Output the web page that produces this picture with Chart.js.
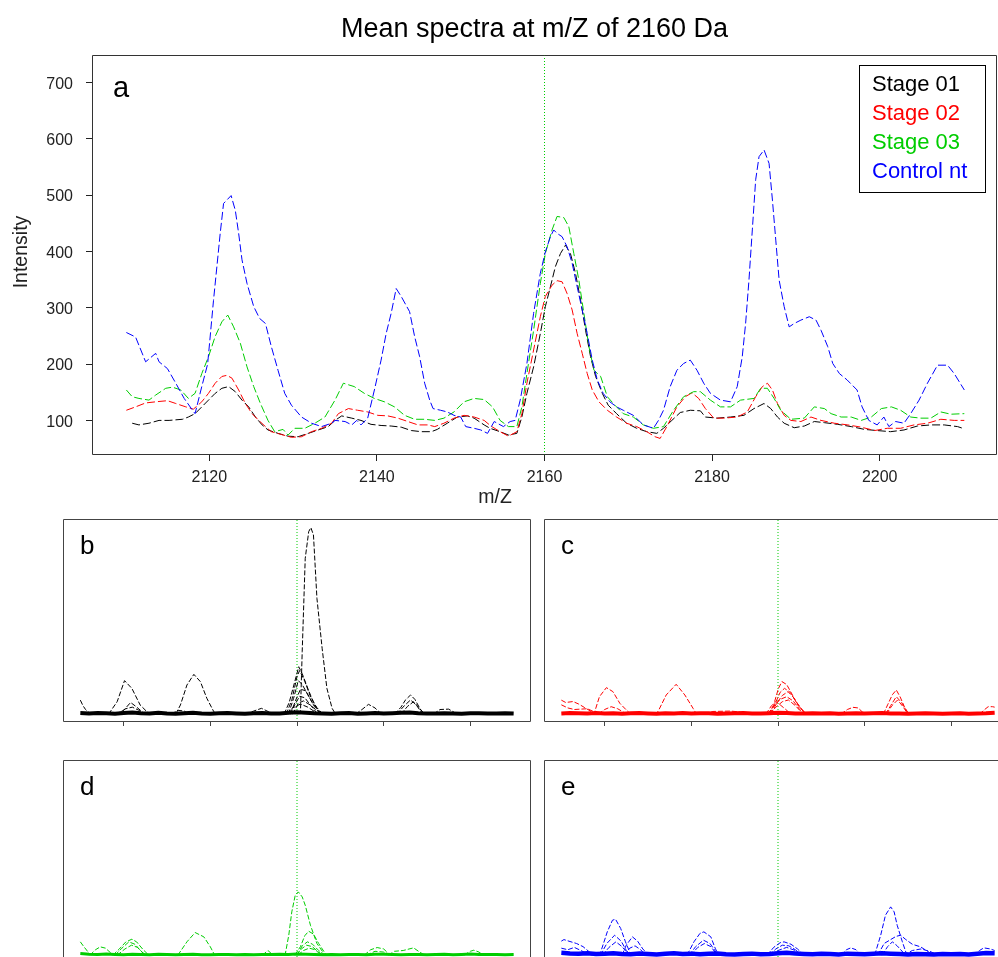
<!DOCTYPE html>
<html>
<head>
<meta charset="utf-8">
<title>Mean spectra at m/Z of 2160 Da</title>
<script src="https://cdn.jsdelivr.net/npm/chart.js@4.4.1/dist/chart.umd.min.js"></script>
<style>
  html, body { margin: 0; padding: 0; background: #ffffff; overflow: hidden; }
  #page { position: relative; width: 998px; height: 957px; overflow: hidden; background: #ffffff; }
  canvas { position: absolute; }
</style>
</head>
<body>
<div id="page">
  <canvas id="panelA" width="998" height="510" style="left:0px;top:0px"></canvas>
  <canvas id="panelB" width="488" height="232" style="left:53px;top:509px"></canvas>
  <canvas id="panelC" width="488" height="232" style="left:534px;top:509px"></canvas>
  <canvas id="panelD" width="488" height="232" style="left:53px;top:750px"></canvas>
  <canvas id="panelE" width="488" height="232" style="left:534px;top:750px"></canvas>
</div>
<script>
// ---------------------------------------------------------------
// Mean spectra, [m/Z, intensity]
// ---------------------------------------------------------------
const stage01 = [
  [2110.8,95],[2111.6,92],[2112.8,95],[2114,100],[2115.2,100],[2116.8,102],[2117.5,106],[2118.3,112],
  [2119.1,124],[2119.9,136],[2120.7,148],[2121.5,157],[2122.3,160],[2123.1,151],[2123.9,136],[2124.7,124],
  [2125.5,106],[2126.3,92],[2127,83],[2128.2,77],[2129.4,72],[2130.6,71],[2131.8,77],[2133,83],
  [2134.2,89],[2135,100],[2135.8,108],[2137,104],[2138.1,100],[2139.3,93],[2140.5,91],[2141.7,90],
  [2142.9,88],[2144.1,82],[2145.3,80],[2146.5,80],[2147.2,84],[2148.4,95],[2149.6,106],[2150.8,108],
  [2151.6,104],[2152.8,92],[2153.5,86],[2154.7,80],[2155.7,74],[2156.7,77],[2157.3,106],[2157.9,148],
  [2158.7,195],[2159.5,254],[2160.1,302],[2160.7,337],[2161.3,373],[2161.9,396],[2162.5,411],[2163.1,396],
  [2163.7,361],[2164.3,314],[2164.9,260],[2165.5,213],[2166.1,178],[2166.9,148],[2167.6,127],[2168.6,112],
  [2169.8,95],[2171,86],[2172.2,80],[2173.4,77],[2174.2,86],[2175.2,100],[2176.2,114],[2177.4,118],
  [2178.6,117],[2179.2,106],[2180.6,104],[2182.2,106],[2183.8,109],[2185,121],[2186.2,130],[2187,121],
  [2187.8,106],[2188.6,95],[2189.8,87],[2191,90],[2192.2,98],[2193.4,96],[2195,93],[2196.6,89],
  [2198.2,84],[2199.7,82],[2201.3,80],[2202.9,83],[2204.5,90],[2206.1,92],[2207.7,92],[2209.3,89],[2210.1,85]
];
const stage02 = [
  [2110.1,118],[2111.2,124],[2112.4,131],[2113.6,133],[2115,135],[2116,130],[2117.2,124],[2118.1,120],
  [2119.1,133],[2119.9,148],[2120.7,166],[2121.5,178],[2122.1,180],[2122.7,175],[2123.5,154],[2124.3,130],
  [2125.1,112],[2125.9,100],[2126.7,89],[2127.4,80],[2128.6,75],[2129.8,70],[2131,71],[2132.2,80],
  [2133.4,86],[2134.6,95],[2135.4,112],[2136.6,121],[2137.7,118],[2138.9,115],[2140.1,109],[2141.3,108],
  [2142.5,104],[2143.7,98],[2144.9,92],[2146.1,92],[2146.9,89],[2148,95],[2149.2,104],[2150.4,109],
  [2151.6,106],[2152.8,100],[2153.6,90],[2154.7,80],[2155.7,72],[2156.7,80],[2157.3,112],[2157.9,166],
  [2158.7,225],[2159.5,284],[2160.1,320],[2160.9,340],[2161.5,348],[2162.1,346],[2162.7,325],[2163.3,296],
  [2163.9,254],[2164.5,219],[2165.1,183],[2165.7,154],[2166.5,133],[2167.5,118],[2168.6,106],[2169.8,95],
  [2171,89],[2172.2,80],[2173.2,71],[2173.8,68],[2174.6,89],[2175.8,124],[2176.8,142],[2177.6,149],
  [2178.4,139],[2179.2,121],[2180.2,104],[2181.4,104],[2183,106],[2184.2,115],[2185.2,142],[2186,160],
  [2186.6,166],[2187.2,154],[2187.8,130],[2188.6,109],[2189.4,100],[2190.6,98],[2191.8,106],[2193,100],
  [2194.6,95],[2196.2,92],[2197.8,88],[2199.4,82],[2200.9,86],[2202.5,86],[2204.1,92],[2205.7,95],
  [2207.3,102],[2208.9,100],[2210.1,100]
];
const stage03 = [
  [2110.1,154],[2110.8,142],[2111.6,139],[2112.8,136],[2113.6,145],[2114.8,157],[2115.6,159],[2116.6,154],
  [2117.5,139],[2118.3,148],[2119.1,183],[2119.9,213],[2120.7,249],[2121.5,275],[2122.2,287],[2122.9,266],
  [2123.7,237],[2124.5,195],[2125.3,160],[2126.1,130],[2127,100],[2127.8,80],[2128.8,84],[2129.4,74],
  [2130.2,86],[2131.4,86],[2132.6,95],[2133.8,106],[2135,136],[2136,166],[2137.3,160],[2138.5,148],
  [2139.7,139],[2140.9,133],[2142.1,124],[2143.3,109],[2144.5,102],[2145.7,102],[2146.9,100],[2148,104],
  [2149.2,115],[2150.4,133],[2151.6,139],[2152.8,137],[2153.8,124],[2154.7,100],[2155.7,89],[2156.7,89],
  [2157.3,124],[2157.9,183],[2158.7,260],[2159.5,343],[2160.1,396],[2160.9,438],[2161.5,462],[2162.3,460],
  [2162.9,444],[2163.5,396],[2164.1,349],[2164.7,290],[2165.3,231],[2165.9,189],[2166.7,178],[2167.5,142],
  [2168.4,127],[2169.4,112],[2170.6,106],[2171.8,92],[2173,86],[2174.2,89],[2175.4,118],[2176.6,142],
  [2177.8,151],[2178.6,151],[2179.8,136],[2181,124],[2182.2,124],[2183.4,136],[2185,139],[2185.8,157],
  [2186.6,157],[2187.4,139],[2188.2,118],[2189.4,102],[2191,104],[2192.2,124],[2193.4,121],[2194.2,112],
  [2195.4,106],[2196.6,106],[2197.8,100],[2199,106],[2200.2,121],[2201.4,124],[2202.5,118],[2203.7,106],
  [2204.9,104],[2206.1,104],[2207.3,115],[2208.5,111],[2210.1,112]
];
const controlNt = [
  [2110.1,256],[2111.2,248],[2112.4,204],[2113.6,219],[2114,204],[2115,192],[2116,166],[2117,139],
  [2118,118],[2118.3,112],[2119.1,160],[2119.8,200],[2120.5,313],[2121.3,432],[2121.7,485],[2122.6,499],
  [2123.1,473],[2123.5,432],[2123.9,385],[2124.5,343],[2125.3,302],[2126,281],[2126.7,272],[2127.4,231],
  [2128.2,189],[2129,148],[2129.8,127],[2131,106],[2132.2,95],[2133.4,89],[2134.6,95],[2135,100],
  [2136.2,98],[2137,92],[2137.6,100],[2138.1,92],[2138.9,104],[2139.7,154],[2140.5,207],[2141.1,254],
  [2141.7,290],[2142.3,334],[2142.9,320],[2143.9,293],[2144.5,249],[2145.1,213],[2145.7,166],[2146.3,136],
  [2146.7,121],[2147.6,118],[2148.4,115],[2149.2,109],[2150,106],[2150.6,89],[2151.6,86],[2152.4,83],
  [2153.2,77],[2154,98],[2155.1,89],[2155.9,98],[2156.5,100],[2157.1,136],[2157.9,201],[2158.7,290],
  [2159.5,361],[2160.1,399],[2160.7,426],[2161.1,438],[2161.5,432],[2162.1,426],[2162.7,408],[2163.3,379],
  [2163.9,337],[2164.5,296],[2165.1,254],[2165.7,207],[2166.3,172],[2167,148],[2167.8,133],[2168.6,124],
  [2169.4,118],[2170.6,109],[2171.8,92],[2173,86],[2173.6,100],[2174.2,118],[2175,160],[2175.8,189],
  [2176.6,201],[2177.4,207],[2178.2,189],[2179,166],[2179.8,148],[2181,136],[2182.2,133],[2183,160],
  [2183.6,213],[2184,272],[2184.4,349],[2184.8,438],[2185.2,527],[2185.6,568],[2186.2,580],[2186.8,556],
  [2187.2,491],[2187.6,420],[2188,349],[2188.6,302],[2189.2,266],[2189.8,272],[2190.6,278],[2191.6,284],
  [2192.4,278],[2193,260],[2193.8,231],[2194.4,201],[2195.2,183],[2196.1,172],[2197.3,154],[2197.9,124],
  [2198.7,100],[2199.7,92],[2200.5,106],[2201.1,89],[2201.9,98],[2202.9,95],[2203.7,112],[2204.7,136],
  [2205.7,166],[2206.9,198],[2208.1,198],[2208.9,183],[2210.1,154]
];

const seriesNames  = ['Stage 01', 'Stage 02', 'Stage 03', 'Control nt'];
const seriesColors = ['#000000', '#FF0000', '#00CD00', '#0000FF'];
const xTicks = [2120, 2140, 2160, 2180, 2200];
const yTicks = [100, 200, 300, 400, 500, 600, 700];
const targetMz = 2160;

// ---------------------------------------------------------------
// Individual spectra per group: baseline band plus the peaks, [m/Z, intensity]
// ---------------------------------------------------------------
const mzGrid = [2110,2112,2114,2116,2118,2120,2122,2124,2126,2128,2130,2132,2134,2136,2138,2140,2142,2144,2146,2148,
  2150,2152,2154,2156,2158,2160,2162,2164,2166,2168,2170,2172,2174,2176,2178,2180,2182,2184,2186,2188,
  2190,2192,2194,2196,2198,2200,2202,2204,2206,2208,2210];

const baseStage01 = [14,9,16,11,7,15,21,12,8,17,10,6,13,19,9,7,12,16,10,5,11,15,8,10,17,24,20,12,9,6,11,14,7,10,15,9,12,17,21,11,8,10,13,9,6,11,12,8,10,13,9];
const baseStage02 = [10,16,12,8,14,9,13,7,11,15,10,6,12,9,14,8,11,13,7,10,12,15,9,8,13,18,14,10,8,11,9,12,7,10,13,8,11,14,10,9,7,10,12,8,6,9,11,7,10,12,18];
const baseStage03 = [22,12,8,14,10,6,11,9,7,12,8,5,9,11,7,6,10,8,6,9,7,10,8,12,9,14,11,8,6,9,7,10,8,6,11,13,9,7,10,8,6,9,11,7,10,14,9,8,10,7,9];
const baseControl = [30,22,18,24,14,20,26,16,12,22,15,10,18,24,14,20,12,18,22,13,10,16,20,12,15,26,30,22,16,12,18,14,10,20,16,12,18,24,20,14,10,16,12,8,14,12,16,10,18,28,26];

const peaksStage01 = [
  [[2110,180],[2110.6,110],[2111.2,60],[2112.4,0]],
  [[2116.5,0],[2118.5,160],[2120.2,430],[2121.9,330],[2123.8,118],[2125.4,30],[2126,0]],
  [[2118,0],[2120,50],[2121.6,150],[2122.8,100],[2124.5,20],[2125.5,0]],
  [[2118.5,0],[2120.5,70],[2122,90],[2123.5,50],[2125,0]],
  [[2131,0],[2132.5,50],[2134,40],[2135,0]],
  [[2132,0],[2133.1,118],[2134.6,374],[2136.2,510],[2137.7,417],[2139.2,203],[2140.8,32],[2141.5,0]],
  [[2148,0],[2150,40],[2151.8,75],[2153.5,30],[2155,0]],
  [[2157,0],[2158.2,150],[2159.5,420],[2160.4,608],[2161.2,520],[2162.5,330],[2163.8,150],[2165,40],[2166,0]],
  [[2157.5,0],[2158.8,180],[2160,480],[2160.6,560],[2161.8,420],[2163,240],[2164.5,90],[2166,0]],
  [[2158,0],[2159.2,200],[2160.3,430],[2161.2,380],[2162.5,250],[2164,100],[2165.5,0]],
  [[2158.5,0],[2159.7,180],[2160.8,320],[2162,300],[2163.5,150],[2165.2,30],[2166.5,0]],
  [[2158,0],[2159.5,120],[2160.6,230],[2161.8,210],[2163.2,110],[2164.8,0]],
  [[2159,0],[2160.3,140],[2161.5,170],[2163,120],[2164.5,50],[2166,0]],
  [[2157.5,0],[2159,80],[2160.8,130],[2162.5,90],[2165,0]],
  [[2160.2,0],[2160.8,32],[2161.2,800],[2161.9,1996],[2162.7,2338],[2163.2,2390],[2163.8,2295],[2164.6,1484],[2165.8,844],[2166.9,331],[2168.1,75],[2168.8,11],[2169.4,0]],
  [[2173.5,0],[2175,60],[2176.5,126],[2178,80],[2179.5,0]],
  [[2182.5,0],[2184,90],[2185,180],[2186.2,246],[2187.2,190],[2188.4,70],[2189.2,0]],
  [[2183,0],[2184.8,110],[2186.2,182],[2187.5,120],[2189,0]],
  [[2184,0],[2185.5,100],[2186.9,160],[2188.2,80],[2189.5,0]],
  [[2191.5,0],[2193,60],[2195,65],[2197,0]]
];
const peaksStage02 = [
  [[2110,180],[2111,150],[2112.7,162],[2114,130],[2115.4,84],[2117,30],[2118,0]],
  [[2110,120],[2111.5,80],[2113,60],[2116,70],[2118,20],[2119,0]],
  [[2117,0],[2117.7,32],[2118.8,225],[2120.4,340],[2121.9,289],[2123.5,139],[2125,54],[2126,0]],
  [[2118.5,0],[2120,60],[2121.5,96],[2123,70],[2124.5,20],[2125.5,0]],
  [[2131.5,0],[2132.3,32],[2134.2,246],[2136.5,383],[2138.5,246],[2140.4,75],[2141.2,0]],
  [[2143,0],[2145,35],[2149,40],[2151,30],[2152,0]],
  [[2157.8,0],[2159,120],[2160.1,330],[2160.9,417],[2162,380],[2163.2,260],[2164.5,120],[2166,30],[2167,0]],
  [[2158,0],[2159.3,130],[2160.5,280],[2161.5,331],[2162.8,280],[2164.2,160],[2165.8,40],[2167,0]],
  [[2158.3,0],[2159.8,150],[2161,240],[2162.3,289],[2163.5,220],[2165,90],[2166.5,0]],
  [[2157.5,0],[2159,100],[2160.5,190],[2162,224],[2163.5,170],[2165,60],[2166.3,0]],
  [[2158,0],[2159.5,90],[2161,160],[2162.4,182],[2164,110],[2165.5,20],[2166.2,0]],
  [[2157.2,0],[2158.5,110],[2159.5,160],[2160.5,120],[2161.8,60],[2163,0]],
  [[2174.5,0],[2176,60],[2177.3,88],[2178.5,80],[2180,0]],
  [[2184.3,0],[2185.3,120],[2186.4,250],[2187.3,310],[2188.2,220],[2189.2,90],[2190,20],[2190.6,0]],
  [[2184.8,0],[2186,110],[2187.3,224],[2188.5,150],[2189.8,30],[2190.5,0]],
  [[2185,0],[2186.3,110],[2187.6,182],[2188.8,100],[2190,0]],
  [[2206.5,0],[2207.7,60],[2208.5,96],[2209.5,96],[2210,90]]
];
const peaksStage03 = [
  [[2110,171],[2110.8,110],[2111.8,40],[2112.5,0]],
  [[2112.2,0],[2113.5,70],[2114.6,107],[2115.8,90],[2117,30],[2118,0]],
  [[2117.5,0],[2119,80],[2120.5,170],[2121.9,205],[2123,170],[2124.5,70],[2125.8,0]],
  [[2118,0],[2119.6,90],[2121.2,171],[2122.6,140],[2124,50],[2125.2,0]],
  [[2118.5,0],[2120.3,80],[2121.8,128],[2123.2,100],[2124.6,20],[2125.5,0]],
  [[2132.5,0],[2134.6,171],[2136.5,290],[2138.5,235],[2140,107],[2141,0]],
  [[2152,0],[2153.3,60],[2154.5,0]],
  [[2157,0],[2157.3,15],[2158.1,256],[2158.8,555],[2159.6,769],[2160.3,811],[2161.2,747],[2161.9,640],[2163.1,384],[2164.6,149],[2166.2,21],[2166.8,0]],
  [[2159.5,0],[2160.8,110],[2161.8,250],[2162.7,307],[2163.8,270],[2165,150],[2166.3,40],[2167,0]],
  [[2160,0],[2161.2,120],[2162.4,171],[2163.6,140],[2165,60],[2166.5,0]],
  [[2159.8,0],[2161,80],[2162.2,128],[2163.5,110],[2165,40],[2166,0]],
  [[2160.2,0],[2161.5,60],[2162.8,90],[2164.2,70],[2165.6,0]],
  [[2175.5,0],[2177,70],[2178.5,98],[2180,80],[2181.5,0]],
  [[2176,0],[2178,50],[2180,40],[2182,0]],
  [[2181,0],[2182.5,50],[2184.5,60],[2186.9,94],[2188.3,40],[2189.5,0]],
  [[2198.5,0],[2200,50],[2200.8,64],[2202,40],[2203,0]]
];
const peaksControl = [
  [[2110,180],[2110.6,200],[2112,175],[2113.5,150],[2115,110],[2116.5,40],[2117.5,0]],
  [[2110,90],[2111.5,70],[2113,100],[2114.5,60],[2116,20],[2117,0]],
  [[2118.5,0],[2119.1,43],[2120.6,299],[2121.8,448],[2122.5,461],[2123.7,342],[2124.8,171],[2125.6,64],[2126.3,0]],
  [[2119,0],[2120.5,150],[2122.3,256],[2123.8,180],[2125,60],[2126,0]],
  [[2119.5,0],[2121,100],[2122.6,171],[2124,110],[2125.2,30],[2126,0]],
  [[2124,0],[2125,130],[2126.4,235],[2127.6,180],[2128.8,80],[2129.8,20],[2130.5,0]],
  [[2124.5,0],[2125.8,90],[2127,120],[2128.3,70],[2129.5,0]],
  [[2139,0],[2140.6,171],[2142,280],[2142.9,299],[2144.5,235],[2145.5,90],[2146.3,0]],
  [[2139.5,0],[2141,110],[2142.8,192],[2144.3,150],[2145.7,40],[2146.5,0]],
  [[2139.8,0],[2141.5,100],[2143,149],[2144.5,110],[2146,0]],
  [[2157.5,0],[2159,100],[2160.5,160],[2161.4,171],[2163,140],[2164.5,80],[2166,0]],
  [[2158,0],[2159.5,80],[2161,128],[2162.5,120],[2164,70],[2165.5,0]],
  [[2158.5,0],[2160,60],[2162,100],[2164,60],[2165.8,0]],
  [[2174.5,0],[2175.8,70],[2176.8,94],[2178,70],[2179.2,0]],
  [[2182.3,0],[2183.7,256],[2184.8,512],[2186,619],[2186.8,555],[2187.5,384],[2188.7,171],[2189.5,40],[2190.2,0]],
  [[2183,0],[2184.5,150],[2186,200],[2187.2,240],[2188.3,256],[2189.5,200],[2191,140],[2192.9,107],[2194.5,50],[2196,0]],
  [[2184,0],[2185.3,110],[2186.4,171],[2187.5,120],[2188.8,40],[2189.6,0]],
  [[2189,0],[2191,60],[2193,80],[2195,50],[2197,0]],
  [[2205,0],[2206.5,60],[2207.5,94],[2209,80],[2210,60]]
];

// ---------------------------------------------------------------
// Drawing
// ---------------------------------------------------------------
const FONT = "'Liberation Sans', Arial, Helvetica, sans-serif";
const INK = '#222222';
const X_RANGE = [2106, 2214];
const MAIN_Y = [38.6, 748.5];
const SUB_Y = [-100, 2500];

const toPoints = pairs => pairs.map(([x, y]) => ({ x, y }));

// box around the plot region, plus free-standing labels and the legend
const decorPlugin = {
  id: 'decor',
  afterDraw(chart, args, opts) {
    const { ctx, chartArea: a } = chart;
    ctx.save();
    ctx.strokeStyle = opts.frameColor || '#333333';
    ctx.lineWidth = 1;
    ctx.beginPath();
    const l = Math.round(a.left) + 0.5, t = Math.round(a.top) + 0.5;
    const r = Math.round(a.right) - 0.5, b = Math.round(a.bottom) - 0.5;
    ctx.moveTo(l, b); ctx.lineTo(l, t); ctx.lineTo(r, t); ctx.lineTo(r, b); ctx.closePath();
    ctx.stroke();

    (opts.texts || []).forEach(tx => {
      ctx.save();
      ctx.font = `${tx.size}px ${FONT}`;
      ctx.fillStyle = tx.color || '#000000';
      ctx.textAlign = tx.align || 'left';
      ctx.textBaseline = tx.baseline || 'alphabetic';
      const x = tx.rel ? a.left + tx.x : tx.x;
      const y = tx.rel ? a.top + tx.y : tx.y;
      ctx.translate(x, y);
      if (tx.rotate) ctx.rotate(tx.rotate);
      ctx.fillText(tx.text, 0, 0);
      ctx.restore();
    });

    if (opts.legend) {
      const lg = opts.legend;
      ctx.strokeStyle = '#000000';
      ctx.lineWidth = 1;
      ctx.strokeRect(lg.x + 0.5, lg.y + 0.5, lg.w, lg.h);
      ctx.font = `${lg.size}px ${FONT}`;
      ctx.textAlign = 'left';
      ctx.textBaseline = 'alphabetic';
      lg.labels.forEach((name, i) => {
        ctx.fillStyle = lg.colors[i];
        ctx.fillText(name, lg.x + lg.pad, lg.firstBaseline + i * lg.step);
      });
    }
    ctx.restore();
  }
};

function markerLine(yRange) {
  return {
    data: [{ x: targetMz, y: yRange[0] }, { x: targetMz, y: yRange[1] }],
    borderColor: '#00CD00', borderWidth: 1, borderDash: [1, 2],
    pointRadius: 0, showLine: true, fill: false
  };
}

// ---- panel a: mean spectra ----
const meanSeries = [stage01, stage02, stage03, controlNt];
const meanSets = meanSeries.map((s, i) => ({
  label: seriesNames[i],
  data: toPoints(s),
  borderColor: seriesColors[i],
  borderWidth: 1,
  borderDash: [8, 3],
  pointRadius: 0, showLine: true, fill: false, tension: 0
})).reverse();
meanSets.push(markerLine(MAIN_Y));

new Chart(document.getElementById('panelA'), {
  type: 'scatter',
  data: { datasets: meanSets },
  options: {
    responsive: false, animation: false, devicePixelRatio: 1,
    events: [],
    layout: { padding: { left: 0, right: 1, top: 55, bottom: 0 } },
    plugins: {
      legend: { display: false }, tooltip: { enabled: false },
      decor: {
        frameColor: '#333333',
        texts: [
          { text: 'Mean spectra at m/Z of 2160 Da', x: 534.5, y: 36.5, size: 27, align: 'center' },
          { text: 'a', x: 113, y: 97, size: 29 },
          { text: 'Intensity', x: 22, y: 252, size: 19.5, align: 'center', baseline: 'middle', rotate: -Math.PI / 2, color: INK },
          { text: 'm/Z', x: 495, y: 498, size: 19.5, align: 'center', baseline: 'middle', color: INK }
        ],
        legend: {
          x: 859, y: 65, w: 126, h: 127, pad: 13, size: 22,
          firstBaseline: 91, step: 29,
          labels: seriesNames, colors: seriesColors
        }
      }
    },
    scales: {
      x: {
        type: 'linear', min: X_RANGE[0], max: X_RANGE[1],
        afterBuildTicks: s => { s.ticks = xTicks.map(v => ({ value: v })); },
        afterFit: s => { s.height = 55; },
        border: { display: false },
        grid: { drawOnChartArea: false, color: INK, tickColor: INK, tickLength: 6 },
        ticks: { font: { family: FONT, size: 16 }, color: INK, padding: 7, maxRotation: 0, autoSkip: false,
                 callback: v => String(v) }
      },
      y: {
        type: 'linear', min: MAIN_Y[0], max: MAIN_Y[1],
        afterBuildTicks: s => { s.ticks = yTicks.map(v => ({ value: v })); },
        afterFit: s => { s.width = 92; },
        border: { display: false },
        grid: { drawOnChartArea: false, color: INK, tickColor: INK, tickLength: 6 },
        ticks: { font: { family: FONT, size: 16 }, color: INK, padding: 13, autoSkip: false, labelOffset: 2,
                 callback: v => String(v) }
      }
    }
  },
  plugins: [decorPlugin]
});

// ---- panels b-e: individual spectra of each group ----
function drawGroup(canvasId, letter, color, base, peaks, baseWidth) {
  const sets = peaks.map(p => ({
    data: toPoints(p), borderColor: color, borderWidth: 1, borderDash: [5, 2],
    pointRadius: 0, showLine: true, fill: false, tension: 0
  }));
  sets.push({
    data: mzGrid.map((m, i) => ({ x: m, y: base[i] })),
    borderColor: color, borderWidth: baseWidth,
    pointRadius: 0, showLine: true, fill: false, tension: 0
  });
  sets.push(markerLine(SUB_Y));

  new Chart(document.getElementById(canvasId), {
    type: 'scatter',
    data: { datasets: sets },
    options: {
      responsive: false, animation: false, devicePixelRatio: 1,
      events: [],
      layout: { padding: { left: 10, right: 10, top: 10, bottom: 0 } },
      plugins: {
        legend: { display: false }, tooltip: { enabled: false },
        decor: {
          frameColor: '#444444',
          texts: [{ text: letter, x: 17, y: 35, size: 26, rel: true }]
        }
      },
      scales: {
        x: {
          type: 'linear', min: X_RANGE[0], max: X_RANGE[1],
          afterBuildTicks: s => { s.ticks = xTicks.map(v => ({ value: v })); },
          afterFit: s => { s.height = 19; },
          border: { display: false },
          grid: { drawOnChartArea: false, color: '#444444', tickColor: '#444444', tickLength: 4 },
          ticks: { display: false }
        },
        y: { type: 'linear', display: false, min: SUB_Y[0], max: SUB_Y[1] }
      }
    },
    plugins: [decorPlugin]
  });
}

drawGroup('panelB', 'b', seriesColors[0], baseStage01, peaksStage01, 4);
drawGroup('panelC', 'c', seriesColors[1], baseStage02, peaksStage02, 4);
drawGroup('panelD', 'd', seriesColors[2], baseStage03, peaksStage03, 3);
drawGroup('panelE', 'e', seriesColors[3], baseControl, peaksControl, 4.5);
</script>
</body>
</html>
